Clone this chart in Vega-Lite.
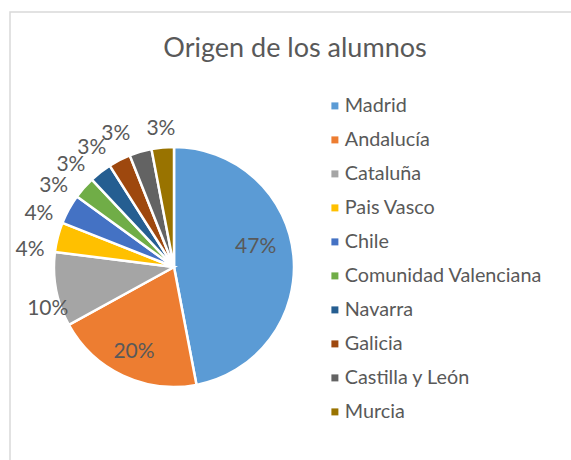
{
  "$schema": "https://vega.github.io/schema/vega-lite/v6.json",
  "width": 571,
  "height": 460,
  "autosize": {"type": "fit", "contains": "padding"},
  "padding": {"left": 10, "top": 12, "right": -3, "bottom": -3},
  "background": "white",
  "view": {"stroke": "#d9d9d9", "strokeWidth": 1.5},
  "config": {
    "view": {"stroke": "#d9d9d9", "strokeWidth": 1.5},
    "style": {"cell": {"stroke": "#d9d9d9", "strokeWidth": 1.5}},
    "font": "Lato"
  },
  "title": {
    "text": "Origen de los alumnos",
    "font": "Lato",
    "fontSize": 27,
    "fontWeight": "normal",
    "color": "#595959",
    "anchor": "middle",
    "frame": "group",
    "offset": -51,
    "dx": 3
  },
  "data": {
    "values": [
      {"region": "Madrid", "valor": 0.47},
      {"region": "Andalucía", "valor": 0.20},
      {"region": "Cataluña", "valor": 0.10},
      {"region": "Pais Vasco", "valor": 0.04},
      {"region": "Chile", "valor": 0.04},
      {"region": "Comunidad Valenciana", "valor": 0.03},
      {"region": "Navarra", "valor": 0.03},
      {"region": "Galicia", "valor": 0.03},
      {"region": "Castilla y León", "valor": 0.03},
      {"region": "Murcia", "valor": 0.03}
    ]
  },
  "transform": [{"window": [{"op": "row_number", "as": "orden"}]}],
  "encoding": {
    "theta": {"field": "valor", "type": "quantitative", "stack": true},
    "order": {"field": "orden", "type": "quantitative"}
  },
  "resolve": {"scale": {"theta": "independent"}},
  "layer": [
    {
      "mark": {"type": "arc", "outerRadius": 120, "x": 164, "y": 255, "stroke": "white", "strokeWidth": 2.5},
      "encoding": {
        "color": {
          "field": "region",
          "type": "nominal",
          "scale": {
            "domain": ["Madrid", "Andalucía", "Cataluña", "Pais Vasco", "Chile", "Comunidad Valenciana", "Navarra", "Galicia", "Castilla y León", "Murcia"],
            "range": ["#5B9BD5", "#ED7D31", "#A5A5A5", "#FFC000", "#4472C4", "#70AD47", "#255E91", "#9E480E", "#636363", "#997300"]
          },
          "legend": {
            "orient": "none",
            "legendX": 315,
            "legendY": 84,
            "title": null,
            "padding": 0,
            "symbolType": "square",
            "symbolSize": 49,
            "symbolStrokeWidth": 0,
            "labelFont": "Lato",
            "labelFontSize": 19.8,
            "labelColor": "#595959",
            "labelOffset": 0,
            "labelLimit": 300,
            "rowPadding": 13
          }
        }
      }
    },
    {
      "mark": {"type": "text", "radius": 82, "x": 164, "y": 255, "dy": -12, "font": "Lato", "fontSize": 21, "color": "#595959"},
      "encoding": {
        "text": {"condition": {"test": "datum.region === 'Madrid'", "field": "valor", "format": ".0%"}, "value": ""}
      }
    },
    {
      "mark": {"type": "text", "radius": 94, "x": 164, "y": 255, "font": "Lato", "fontSize": 21, "color": "#595959"},
      "encoding": {
        "text": {"condition": {"test": "datum.region === 'Andalucía'", "field": "valor", "format": ".0%"}, "value": ""}
      }
    },
    {
      "mark": {"type": "text", "radius": 139, "x": 164, "y": 255, "font": "Lato", "fontSize": 21, "color": "#595959"},
      "encoding": {
        "text": {"condition": {"test": "datum.region === 'Murcia'", "field": "valor", "format": ".0%"}, "value": ""}
      }
    },
    {
      "mark": {"type": "text", "radius": 133, "x": 164, "y": 255, "font": "Lato", "fontSize": 21, "color": "#595959"},
      "encoding": {
        "theta": {"field": "valor", "type": "quantitative", "stack": true, "scale": {"range": [-0.1309, 6.1523]}},
        "text": {"condition": {"test": "datum.region === 'Cataluña'", "field": "valor", "format": ".0%"}, "value": ""}
      }
    },
    {
      "mark": {"type": "text", "radius": 145, "x": 164, "y": 255, "font": "Lato", "fontSize": 21, "color": "#595959"},
      "encoding": {
        "theta": {"field": "valor", "type": "quantitative", "stack": true, "scale": {"range": [-0.1309, 6.1523]}},
        "text": {"condition": {"test": "datum.valor < 0.1 && datum.region !== 'Murcia'", "field": "valor", "format": ".0%"}, "value": ""}
      }
    }
  ]
}
